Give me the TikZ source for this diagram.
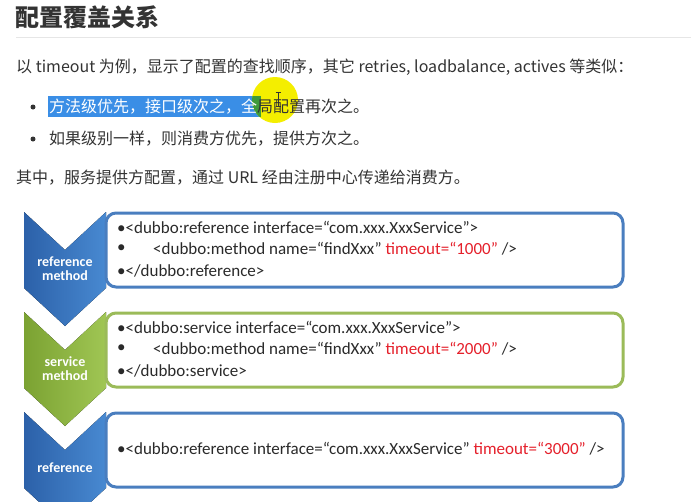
\documentclass[tikz,border=0pt]{standalone}
\usepackage{fontspec}
\setmainfont{Noto Sans CJK SC}
\newfontfamily\calfont{Carlito}
\definecolor{txt}{HTML}{333333}
\definecolor{rulec}{HTML}{E6E6E6}
\definecolor{hlblue}{HTML}{3A8EE6}
\definecolor{hlgreen}{HTML}{3E9A3A}
\definecolor{cursory}{HTML}{F4EE00}
\definecolor{codered}{HTML}{E5202B}
\definecolor{code}{HTML}{2A2A2A}
\definecolor{bluedark}{HTML}{2C61A9}
\definecolor{bluelight}{HTML}{4889D1}
\definecolor{greendark}{HTML}{7BA232}
\definecolor{greenlight}{HTML}{A0C654}
\definecolor{boxblue}{HTML}{4A7EBF}
\definecolor{boxgreen}{HTML}{9BBB59}
\tikzset{
  body/.style={anchor=west, inner sep=0pt, text=txt, font=\fontsize{16}{19}\selectfont},
  dot/.style={circle, fill=txt, inner sep=0pt, minimum size=5pt},
  codeline/.style={anchor=west, inner sep=0pt, text=code, font=\calfont\fontsize{17}{20}\selectfont},
  chevlabel/.style={align=center, inner sep=0pt, text=white, font=\calfont\bfseries\fontsize{14}{14}\selectfont},
  bluechev/.style={left color=bluedark, right color=bluelight},
  greenchev/.style={left color=greendark, right color=greenlight},
  codebox/.style={fill=white, line width=3pt, rounded corners=10pt},
}
\begin{document}
\begin{tikzpicture}[x=1pt,y=-1pt]
\useasboundingbox (0,0) rectangle (691,501);
\fill[white] (0,0) rectangle (691,501);

% heading
\node[anchor=west, inner sep=0pt, text=txt, font=\fontsize{24}{28}\selectfont\bfseries] (title) at (15,17) {配置覆盖关系};
\coordinate (rl) at (16,37);
\coordinate (rr) at (691,37);
\draw[rulec, line width=1pt] (rl) -- (rr);

\node[body] (l1) at (16,67) {以 timeout 为例，显示了配置的查找顺序，其它 retries, loadbalance, actives 等类似：};

% selection highlight and cursor spot
\fill[hlblue] (48,96) rectangle (261,117);
\fill[cursory] (275,100) circle (23);
\begin{scope}
  \clip (275,100) circle (23);
  \fill[hlgreen] (48,96) rectangle (261,117);
\end{scope}

\node[dot] (b1) at (33,107) {};
\node[body] (t1) at (49,107) {{\color{white}方法级优先，接口级次之，全}局配置再次之。};
\node[dot] (b2) at (33,139) {};
\node[body] (t2) at (49,139) {如果级别一样，则消费方优先，提供方次之。};

% I-beam cursor
\draw[black!80, line width=0.8pt] (278,92) -- (278,106) (275.5,92) -- (280.5,92) (275.5,106) -- (280.5,106);

\node[body] (l3) at (16,178) {其中，服务提供方配置，通过 URL 经由注册中心传递给消费方。};

% chevrons
\fill[bluechev] (24,212) -- (65,250) -- (106,212) -- (106,288) -- (65,326) -- (24,288) -- cycle;
\fill[greenchev] (24,312) -- (65,350) -- (106,312) -- (106,388) -- (65,426) -- (24,388) -- cycle;
\fill[bluechev] (24,412) -- (65,450) -- (106,412) -- (106,488) -- (65,526) -- (24,488) -- cycle;

\node[chevlabel] (c1) at (65,269) {reference\\[0pt]method};
\node[chevlabel] (c2) at (65,369) {service\\[0pt]method};
\node[chevlabel] (c3) at (65,468) {reference};

% code boxes
\draw[codebox, draw=boxblue] (106,213) rectangle (623,287);
\draw[codebox, draw=boxgreen] (106,313) rectangle (623,387);
\draw[codebox, draw=boxblue] (106,413) rectangle (623,487);

\node[codeline] (r1a) at (117,227) {•<dubbo:reference interface=“com.xxx.XxxService”>};
\node[codeline] (r1b) at (117,249) {•};
\node[codeline] (r1c) at (153,249) {<dubbo:method name=“findXxx” {\color{codered}timeout=“1000”} />};
\node[codeline] (r1d) at (117,271) {•</dubbo:reference>};

\node[codeline] (s1a) at (117,327) {•<dubbo:service interface=“com.xxx.XxxService”>};
\node[codeline] (s1b) at (117,349) {•};
\node[codeline] (s1c) at (153,349) {<dubbo:method name=“findXxx” {\color{codered}timeout=“2000”} />};
\node[codeline] (s1d) at (117,371) {•</dubbo:service>};

\node[codeline] (g1) at (117,449) {•<dubbo:reference interface=“com.xxx.XxxService” {\color{codered}timeout=“3000”} />};
\end{tikzpicture}
\end{document}
